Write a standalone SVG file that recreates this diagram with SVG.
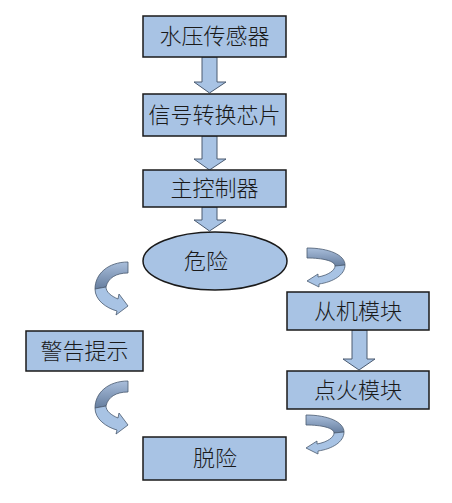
<svg xmlns="http://www.w3.org/2000/svg" width="452" height="503" viewBox="0 0 452 503">
<style>
.box{fill:#a8c3e4;stroke:#1a1a1a;stroke-width:1.5}
.ar{fill:#a8c3e4;stroke:#4a5a70;stroke-width:1}
.back{fill:url(#gb);stroke:#4a5a70;stroke-width:0.8}
.front{fill:#a8c3e4;stroke:#4a5a70;stroke-width:0.8}
text{font-family:"Noto Sans CJK SC","Liberation Sans",sans-serif;font-size:22px;font-weight:300;fill:#1a1a1a;text-anchor:middle}
</style>
<defs>
<linearGradient id="gb" x1="0" y1="0" x2="0" y2="1">
<stop offset="0" stop-color="#a9bedb"/>
<stop offset="1" stop-color="#667e9f"/>
</linearGradient>
<g id="cl">
<path class="back" d="M0,0 C-20,0 -33,12 -33,27 L-22,25 C-20,16 -12,11 0,11 Z"/>
<path class="front" d="M-33,27 C-33,38 -22,46 -11,49 L-12,53 L0,44 L-9,32 L-10,37 C-17,34 -22,30 -22,25 Z"/>
</g>
<g id="cr">
<path class="back" d="M0,0 C22,0 38,7 38,17 L28,18 C28,13 16,10 0,10 Z"/>
<path class="front" d="M38,17 C38,27 26,34 12,36 L12,39 L0,33 L11,26 L11,29 C22,27 28,22 28,18 Z"/>
</g>
</defs>
<rect width="452" height="503" fill="#ffffff"/>
<g id="connectors">
<path class="ar" d="M202,57 L217,57 L217,82 L226,82 L209.5,93 L194,82 L202,82 Z"/>
<path class="ar" d="M202,136 L217,136 L217,159 L226,159 L209.5,170 L194,159 L202,159 Z"/>
<path class="ar" d="M202,207 L217,207 L217,220 L226,220 L209.5,231 L194,220 L202,220 Z"/>
<path class="ar" d="M352,330 L367,330 L367,359 L375,359 L359,370 L343,359 L352,359 Z"/>
<use href="#cl" x="128" y="262"/>
<use href="#cl" x="128" y="381"/>
<use href="#cr" x="307" y="248"/>
<use href="#cr" x="306" y="415"/>
</g>
<g id="n1"><rect class="box" x="143" y="16" width="143" height="41"/><text x="214.5" y="44">水压传感器</text></g>
<g id="n2"><rect class="box" x="143" y="94" width="143" height="42"/><text x="214.5" y="123">信号转换芯片</text></g>
<g id="n3"><rect class="box" x="143" y="170" width="143" height="37"/><text x="214.5" y="196">主控制器</text></g>
<g id="n4"><ellipse cx="215" cy="261" rx="72" ry="29" fill="#a8c3e4" stroke="#1a1a1a" stroke-width="1.5"/><text x="206" y="269">危险</text></g>
<g id="n5"><rect class="box" x="287" y="292" width="142" height="38"/><text x="358" y="319">从机模块</text></g>
<g id="n6"><rect class="box" x="287" y="371" width="142" height="38"/><text x="358" y="398">点火模块</text></g>
<g id="n7"><rect class="box" x="26" y="331" width="117" height="40"/><text x="84.5" y="359">警告提示</text></g>
<g id="n8"><rect class="box" x="143" y="437" width="143" height="43"/><text x="215" y="466">脱险</text></g>
</svg>
